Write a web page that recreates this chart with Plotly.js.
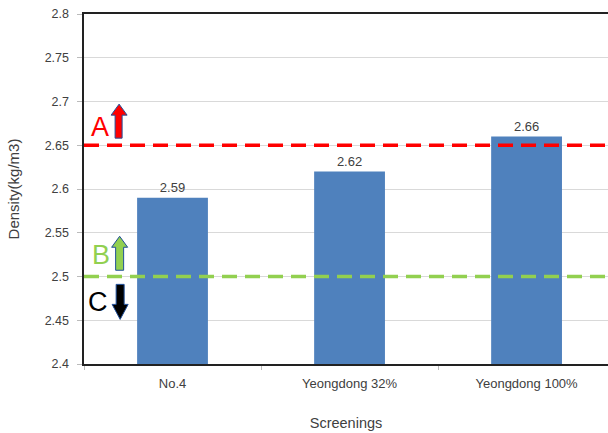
<!DOCTYPE html>
<html><head><meta charset="utf-8">
<script src="https://cdn.plot.ly/plotly-3.0.1.min.js"></script>
<style>html,body{margin:0;padding:0;background:#fff}#c{width:608px;height:433px}</style>
</head><body><div id="c"></div>
<script>
const categories = ["No.4", "Yeongdong 32%", "Yeongdong 100%"];
const densities = [2.59, 2.62, 2.66];
const limitA = 2.65;
const limitB = 2.5;
const labels = ["A", "B", "C"];

const font = "Liberation Sans, Arial, sans-serif";
const trace = {
  type: "bar", x: categories, y: densities, width: 0.4,
  marker: {color: "#4F81BD"},
  text: densities.map(v => v.toFixed(2)), textposition: "outside",
  textfont: {size: 13, color: "#404040", family: font},
  cliponaxis: false, hoverinfo: "skip"
};
const layout = {
  width: 608, height: 433,
  margin: {l: 84, r: 0, t: 14, b: 69},
  paper_bgcolor: "#fff", plot_bgcolor: "#fff",
  showlegend: false,
  xaxis: {
    range: [-0.5, 2.46], showline: true, linecolor: "#222", linewidth: 2, mirror: true,
    ticks: "outside", tickson: "boundaries", ticklen: 4, tickcolor: "#bbb",
    ticklabelstandoff: 6,
    tickfont: {size: 13, color: "#404040", family: font},
    title: {text: "Screenings", font: {size: 14.5, color: "#404040", family: font}, standoff: 28}
  },
  yaxis: {
    range: [2.4, 2.8], dtick: 0.05, showline: true, linecolor: "#222", linewidth: 2.5,
    gridcolor: "#d9d9d9", ticks: "outside", ticklen: 5, tickcolor: "#bbb",
    ticklabelstandoff: 5,
    tickfont: {size: 12.5, color: "#404040", family: font},
    zeroline: false,
    title: {text: "Density(kg/m3)", font: {size: 15, color: "#404040", family: font}, standoff: 22}
  },
  shapes: [
    {type: "line", xref: "paper", x0: 0, x1: 1, yref: "y", y0: limitA, y1: limitA,
     line: {color: "#FF0000", width: 3.5, dash: "15px,8px"}},
    {type: "line", xref: "paper", x0: 0, x1: 1, yref: "y", y0: limitB, y1: limitB,
     line: {color: "#92D050", width: 3.5, dash: "15px,8px"}},
    {type: "path", xref: "paper", xsizemode: "pixel", xanchor: 0.067, yref: "y", ysizemode: "pixel", yanchor: 2.697,
     path: "M 0 0 L -8 -11 L -4 -11 L -4 -34 L 3 -34 L 3 -11 L 8 -11 Z",
     fillcolor: "#FF0000", line: {color: "#1F4E99", width: 1}},
    {type: "path", xref: "paper", xsizemode: "pixel", xanchor: 0.068, yref: "y", ysizemode: "pixel", yanchor: 2.546,
     path: "M 0 0 L -8 -11 L -4 -11 L -4 -34 L 4 -34 L 4 -11 L 8 -11 Z",
     fillcolor: "#92D050", line: {color: "#1F4E99", width: 1}},
    {type: "path", xref: "paper", xsizemode: "pixel", xanchor: 0.069, yref: "y", ysizemode: "pixel", yanchor: 2.451,
     path: "M 0 0 L -8 15 L -4 15 L -4 35 L 4 35 L 4 15 L 8 15 Z",
     fillcolor: "#000000", line: {color: "#1F4E99", width: 1}}
  ],
  annotations: [
    {text: labels[0], xref: "paper", x: 0.031, xanchor: "center", yref: "y", y: 2.671, yanchor: "middle",
     showarrow: false, font: {size: 27, color: "#FF0000", family: font}},
    {text: labels[1], xref: "paper", x: 0.0325, xanchor: "center", yref: "y", y: 2.525, yanchor: "middle",
     showarrow: false, font: {size: 27, color: "#92D050", family: font}},
    {text: labels[2], xref: "paper", x: 0.026, xanchor: "center", yref: "y", y: 2.471, yanchor: "middle",
     showarrow: false, font: {size: 27, color: "#000000", family: font}}
  ]
};
Plotly.newPlot("c", [trace], layout, {staticPlot: true});
</script></body></html>
